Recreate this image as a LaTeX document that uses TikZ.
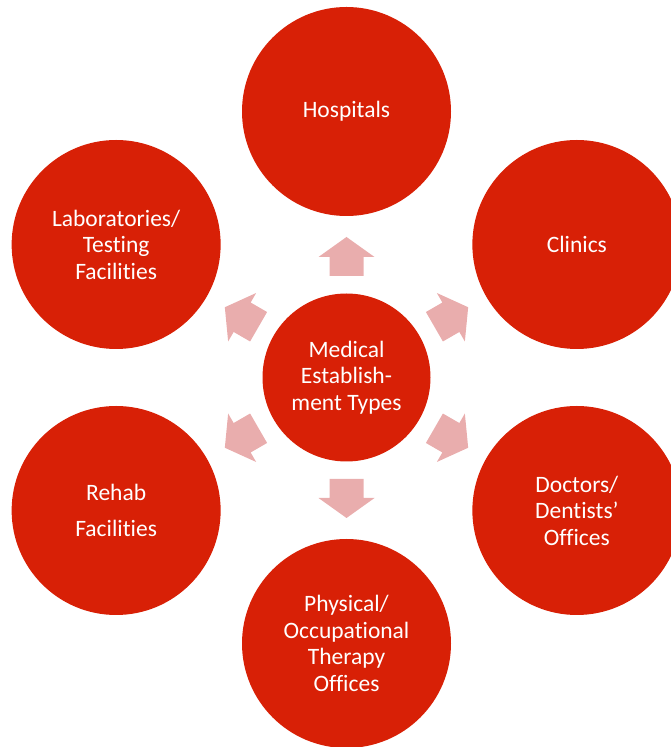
\documentclass[tikz,border=0pt]{standalone}
\usepackage{fontspec}
\setmainfont{Carlito}[RawFeature={-liga;-clig;-calt;-dlig}]
\usetikzlibrary{calc}
\definecolor{circred}{RGB}{216,32,6}
\definecolor{arrowpink}{RGB}{233,173,173}
\begin{document}
\begin{tikzpicture}[x=1pt,y=1pt,
  bubble/.style={circle, fill=circred, draw=none, text=white, inner sep=0pt,
    minimum size=209pt, align=center,
    font=\fontsize{23.5pt}{26.5pt}\selectfont},
  hub/.style={bubble, minimum size=168pt},
  blockarrow/.style={fill=arrowpink, draw=none}]
\useasboundingbox (0,0) rectangle (671,747);
\clip (0,0) rectangle (671,747);
\node[hub] (c) at (346.5,369.5) {Medical\\Establish-\\ment Types};
\node[bubble] (hosp) at ($(c.center)+(90:266)$) {Hospitals};
\node[bubble] (clin) at ($(c.center)+(30:266)$) {Clinics};
\node[bubble] (doc) at ($(c.center)+(-30:266)$) {Doctors/\\Dentists’\\Offices};
\node[bubble] (phys) at ($(c.center)+(-90:266)$) {Physical/\\Occupational\\Therapy\\Offices};
\node[bubble] (rehab) at ($(c.center)+(-150:266)$) {Rehab\\[9.5pt]Facilities};
\node[bubble] (lab) at ($(c.center)+(150:266)$) {Laboratories/\\Testing\\Facilities};
\foreach \a in {90,30,-30,-90,-150,150}
  \fill[blockarrow, shift={(c.center)}, rotate=\a]
    (101.5,-17) -- (120.5,-17) -- (120.5,-28) -- (140.5,0) -- (120.5,28)
    -- (120.5,17) -- (101.5,17) -- cycle;
\end{tikzpicture}
\end{document}
